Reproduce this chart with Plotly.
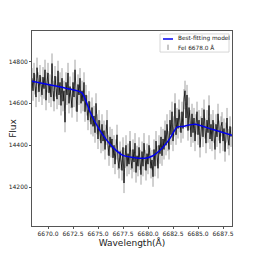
import numpy as np
import plotly.graph_objects as go

# Wavelength grid of the observed spectrum (Å)
wl_start = 6668.4
wl_step = 0.1
flux = [
    14720, 14660, 14745, 14690, 14630, 14770, 14700, 14655, 14735, 14680,
    14640, 14725, 14670, 14760, 14615, 14700, 14745, 14650, 14690, 14630,
    14790, 14660, 14610, 14730, 14680, 14620, 14755, 14640, 14700, 14590,
    14720, 14610, 14660, 14510, 14700, 14640, 14745, 14600, 14680, 14625,
    14580, 14700, 14630, 14760, 14610, 14560, 14690, 14640, 14720, 14600,
    14660, 14610, 14700, 14560, 14640, 14590, 14520, 14610, 14560, 14500,
    14580, 14490, 14540, 14460, 14600, 14500, 14430, 14520, 14470, 14410,
    14500, 14420, 14470, 14380, 14450, 14520, 14400, 14350, 14440, 14390,
    14430, 14340, 14400, 14310, 14380, 14450, 14330, 14290, 14370, 14330,
    14280, 14390, 14220, 14340, 14400, 14300, 14360, 14310, 14420, 14330,
    14290, 14380, 14320, 14410, 14270, 14350, 14300, 14390, 14330, 14260,
    14370, 14300, 14410, 14330, 14280, 14360, 14310, 14400, 14340, 14290,
    14330, 14250, 14380, 14300, 14420, 14350, 14290, 14400, 14360, 14440,
    14350, 14430, 14380, 14470, 14400, 14500, 14420, 14380, 14520, 14450,
    14560, 14420, 14490, 14600, 14450, 14530, 14480, 14570, 14510, 14460,
    14560, 14480, 14620, 14660, 14530, 14640, 14470, 14580, 14520, 14440,
    14550, 14460, 14530, 14420, 14500, 14560, 14450, 14520, 14390, 14490,
    14530, 14440, 14570, 14480, 14410, 14520, 14460, 14590, 14430, 14500,
    14420, 14520, 14460, 14380, 14500, 14440, 14550, 14470, 14410, 14490,
    14510, 14420, 14480, 14370, 14460, 14530, 14430, 14400, 14490, 14440,
]
flux_err = 48

# Best-fitting model (knots)
model_wl = [6668.4, 6670.0, 6672.0, 6673.4, 6674.2, 6675.2, 6676.5, 6677.5,
            6678.5, 6679.7, 6680.5, 6681.2, 6682.2, 6682.9, 6683.5, 6684.7,
            6686.5, 6688.4]
model_flux = [14705, 14690, 14670, 14650, 14560, 14470, 14390, 14352,
              14342, 14338, 14350, 14376, 14433, 14486, 14490, 14500,
              14475, 14448]

legend_labels = ["Best-fitting model", "FeI 6678.0 Å"]

wl = np.round(wl_start + wl_step * np.arange(len(flux)), 2)

DATA_GRAY = "#8c8c8c"
MODEL_BLUE = "#0000ee"

fig = go.Figure()
fig.add_trace(go.Scatter(
    x=wl, y=flux, mode="lines",
    line=dict(color="black", width=0.8),
    error_y=dict(type="constant", value=flux_err, color=DATA_GRAY,
                 thickness=0.8, width=0),
    showlegend=False, name=legend_labels[1]))
fig.add_trace(go.Scatter(
    x=model_wl, y=model_flux, mode="lines",
    line=dict(color=MODEL_BLUE, width=1.5, shape="spline", smoothing=0.6),
    showlegend=False, name=legend_labels[0]))

# Compact matplotlib-style legend drawn in paper coordinates
fig.add_shape(type="rect", xref="paper", yref="paper", x0=0.64, x1=0.985,
              y0=0.892, y1=0.985, line=dict(color="#cccccc", width=0.8),
              fillcolor="white", layer="above")
fig.add_shape(type="line", xref="paper", yref="paper", x0=0.655, x1=0.705,
              y0=0.959, y1=0.959, line=dict(color=MODEL_BLUE, width=1.5),
              layer="above")
fig.add_shape(type="line", xref="paper", yref="paper", x0=0.68, x1=0.68,
              y0=0.903, y1=0.930, line=dict(color=DATA_GRAY, width=1),
              layer="above")
for txt, yy in zip(legend_labels, [0.959, 0.915]):
    fig.add_annotation(xref="paper", yref="paper", x=0.72, y=yy, text=txt,
                       showarrow=False, xanchor="left", yanchor="middle",
                       font=dict(size=5.8, color="#222222"))

axis_common = dict(showgrid=False, zeroline=False, showline=True,
                   linecolor="#555555", linewidth=1, mirror=True,
                   ticks="outside", ticklen=2, tickcolor="#555555",
                   automargin=False, tickangle=0,
                   tickfont=dict(size=6, color="#222222"))
fig.update_layout(
    width=258, height=258,
    margin=dict(l=24, r=34, t=23, b=40),
    paper_bgcolor="white", plot_bgcolor="white",
    font=dict(family="DejaVu Sans", color="#222222"),
    showlegend=False,
    xaxis=dict(range=[6668.4, 6688.4], tickvals=[6670, 6672.5, 6675, 6677.5, 6680, 6682.5, 6685, 6687.5],
               tickformat=".1f",
               title=dict(text="Wavelength(Å)", font=dict(size=9), standoff=2),
               **axis_common),
    yaxis=dict(range=[14015, 14945], tickvals=[14200, 14400, 14600, 14800],
               tickformat="d",
               title=dict(text="Flux", font=dict(size=9), standoff=5),
               **axis_common),
)
fig.write_html("out.html")
